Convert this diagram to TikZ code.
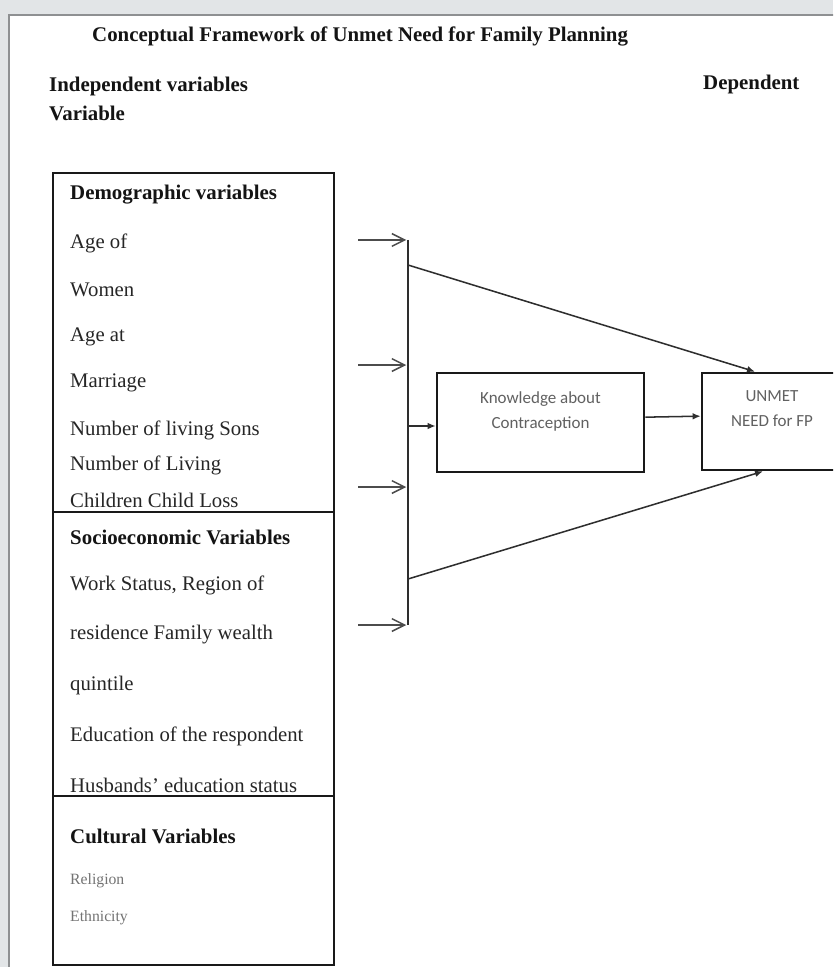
\documentclass[tikz,border=0pt]{standalone}
\usepackage{fontspec}
\setmainfont{Liberation Serif}
\newfontfamily\calfont{Carlito}
\usepackage{xcolor}
\usepackage{tikz}
\usetikzlibrary{arrows.meta, positioning}

\definecolor{framegray}{HTML}{E2E5E7}
\definecolor{pageedge}{HTML}{8E9092}

\begin{document}
\begin{tikzpicture}[x=0.3mm, y=-0.3mm,
  varbox/.style={rectangle, draw=black!90, line width=2.4pt, minimum width=84.3mm, inner sep=0pt},
  midbox/.style={rectangle, draw=black!90, line width=2.3pt, inner sep=0pt, align=center, font=\calfont\fontsize{14.5}{21.3}\selectfont, text=black!62},
  item/.style={anchor=west, inner sep=0pt, font=\fontsize{17.7}{20}\selectfont, text=black!85},
  heading/.style={anchor=west, inner sep=0pt, font=\fontsize{17.8}{20}\selectfont\bfseries, text=black!92},
  minor/.style={anchor=west, inner sep=0pt, font=\fontsize{13.4}{16}\selectfont, text=black!55},
  feed/.style={-{Straight Barb[length=3.8mm,width=3.8mm]}, line width=1.3pt, black!70},
  link/.style={-{Latex[length=2.4mm,width=2mm]}, line width=1.3pt, black!82},
  bus/.style={line width=1.5pt, black!82}
]
\clip (0,0) rectangle (833,967);
\fill[framegray] (0,0) rectangle (833,967);
\fill[white] (9,15) rectangle (900,1000);
\draw[pageedge, line width=1.6pt] (9,1000) -- (9,15) -- (900,15);

\node[heading] (title) at (92,36) {Conceptual Framework of Unmet Need for Family Planning};
\node[heading] (indep) at (49,86) {Independent variables};
\node[heading] (indvar) at (49,113) {Variable};
\node[heading] (dep) at (703,84) {Dependent};

% independent variable blocks
\node[varbox, minimum height=101.7mm] (demo) at (193.5,342.5) {};
\node[varbox, minimum height=85.2mm] (socio) at (193.5,654) {};
\node[varbox, minimum height=50.7mm] (cult) at (193.5,880.5) {};

\node[heading] (demohead) at (70,195) {Demographic variables};
\node[item] (agewomen) at (70,243) {Age of};
\node[item] (women) at (70,290) {Women};
\node[item] (agemar) at (70,337) {Age at};
\node[item] (marriage) at (70,383) {Marriage};
\node[item] (sons) at (70,430) {Number of living Sons};
\node[item] (living) at (70,465) {Number of Living};
\node[item] (loss) at (70,500) {Children Child Loss};

\node[heading] (sociohead) at (70,537) {Socioeconomic Variables};
\node[item] (work) at (70,585) {Work Status, Region of};
\node[item] (resid) at (70,635) {residence Family wealth};
\node[item] (quint) at (70,686) {quintile};
\node[item] (educ) at (70,736) {Education of the respondent};
\node[item] (husb) at (70,785) {Husbands' education status};

\node[heading] (culthead) at (70,836) {Cultural Variables};
\node[minor] (relig) at (70,881) {Religion};
\node[minor] (ethn) at (70,918) {Ethnicity};

% middle and outcome
\node[midbox, minimum width=62.1mm, minimum height=29.7mm] (know) at (540.5,422.5) {Knowledge about\\Contraception\\~};
\node[midbox, minimum width=42mm, minimum height=29.1mm] (unmet) at (772,421.5) {UNMET\\NEED for FP\\~};

% collecting bar
\coordinate (s1) at (358,240);
\coordinate (s2) at (358,365);
\coordinate (s3) at (358,487);
\coordinate (s4) at (358,625);
\coordinate (b1) at (408,240);
\coordinate (b2) at (408,365);
\coordinate (b3) at (408,487);
\coordinate (b4) at (408,625);
\coordinate (up) at (408,265);
\coordinate (mid) at (408,426);
\coordinate (low) at (408,579);

\draw[bus] (b1) -- (b4);
\draw[feed, shorten >=1.5pt] (s1) -- (b1);
\draw[feed, shorten >=1.5pt] (s2) -- (b2);
\draw[feed, shorten >=1.5pt] (s3) -- (b3);
\draw[feed, shorten >=1.5pt] (s4) -- (b4);

\draw[link] (up) -- ([xshift=-5.1mm]unmet.north);
\draw[link] (low) -- ([xshift=-2.7mm]unmet.south);
\draw[link] (mid) -- (mid -| know.west);
\draw[link] ([yshift=1.6mm]know.east) -- ([yshift=1.6mm]unmet.west);
\end{tikzpicture}
\end{document}
